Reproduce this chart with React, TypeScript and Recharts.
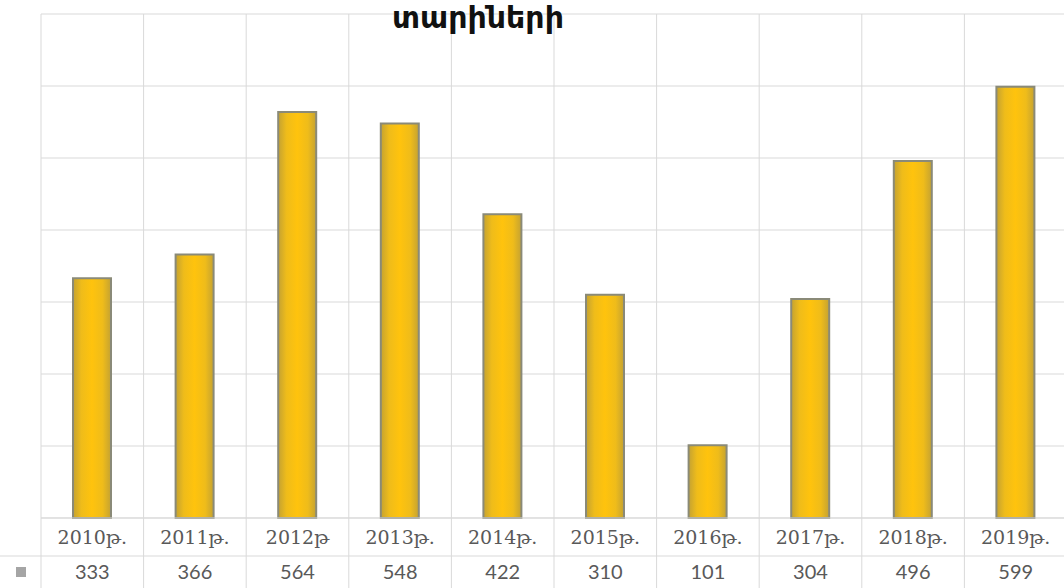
import { Bar, BarChart, CartesianGrid, XAxis, YAxis } from "recharts";
import * as React from "react";

// years shown along the bottom and the counts per year
const years = ["2010թ.", "2011թ.", "2012թ", "2013թ.", "2014թ.", "2015թ.", "2016թ.", "2017թ.", "2018թ.", "2019թ."];
const counts = [333, 366, 564, 548, 422, 310, 101, 304, 496, 599];
const yTicks = [0, 100, 200, 300, 400, 500, 600, 700];
const title = "տարիների";

const data = years.map((name, i) => ({ name, value: counts[i] }));

const W = 1080;
const H = 588;
const margin = { top: 14, right: 13, left: 41, bottom: 0 };
const tableHeight = 70;
const cellW = (W - margin.left - margin.right) / years.length;
const gridColor = "#d9d9d9";
const textColor = "#595959";

// draws one column of the data table under the plot (label row + value row)
const TableTick = (props: any) => {
  const { x, y, payload, index } = props;
  const left = x - cellW / 2;
  const right = x + cellW / 2;
  const rowH = 38;
  return (
    <g>
      <line x1={left} y1={y} x2={left} y2={y + tableHeight + 10} stroke={gridColor} />
      {index === years.length - 1 && (
        <line x1={right} y1={y} x2={right} y2={y + tableHeight + 10} stroke={gridColor} />
      )}
      <line x1={left} y1={y + rowH} x2={right} y2={y + rowH} stroke={gridColor} />
      {index === 0 && (
        <g>
          <line x1={0} y1={y + rowH} x2={left} y2={y + rowH} stroke={gridColor} />
          <rect x={left - 25} y={y + 49} width={10} height={10} fill="#a5a5a5" />
        </g>
      )}
      <text
        x={x}
        y={y + 26}
        textAnchor="middle"
        fontFamily="'DejaVu Serif', 'Liberation Serif', serif"
        fontSize={19}
        fill={textColor}
      >
        {payload.value}
      </text>
      <text
        x={x}
        y={y + 61}
        textAnchor="middle"
        fontFamily="Lato, 'Open Sans', sans-serif"
        fontSize={20}
        fill={textColor}
      >
        {counts[index]}
      </text>
    </g>
  );
};

export default function App() {
  return (
    <div style={{ position: "absolute", left: 0, top: 0, width: 1064, height: 588, overflow: "hidden", background: "#fff" }}>
      <BarChart width={W} height={H} data={data} margin={margin} barSize={38}>
        <defs>
          <linearGradient id="barFill" x1="0" y1="0" x2="1" y2="0">
            <stop offset="0%" stopColor="#c4a232" />
            <stop offset="22%" stopColor="#efbc1a" />
            <stop offset="50%" stopColor="#ffc30d" />
            <stop offset="78%" stopColor="#efbc1a" />
            <stop offset="100%" stopColor="#c4a232" />
          </linearGradient>
        </defs>
        <CartesianGrid
          stroke={gridColor}
          verticalCoordinatesGenerator={({ offset }: any) =>
            years.map((_, i) => offset.left + (i * offset.width) / years.length).concat(offset.left + offset.width)
          }
        />
        <YAxis hide domain={[0, 700]} ticks={yTicks} />
        <XAxis
          dataKey="name"
          height={tableHeight}
          axisLine={{ stroke: gridColor }}
          tickLine={false}
          tickSize={0}
          tickMargin={0}
          interval={0}
          tick={<TableTick />}
        />
        <Bar dataKey="value" fill="url(#barFill)" stroke="#8a8a78" strokeWidth={2} isAnimationActive={false} />
        <text
          x={478}
          y={28}
          textAnchor="middle"
          fontFamily="'DejaVu Sans', 'Noto Sans', sans-serif"
          fontWeight="bold"
          fontSize={30}
          fill="#111"
        >
          {title}
        </text>
      </BarChart>
    </div>
  );
}
